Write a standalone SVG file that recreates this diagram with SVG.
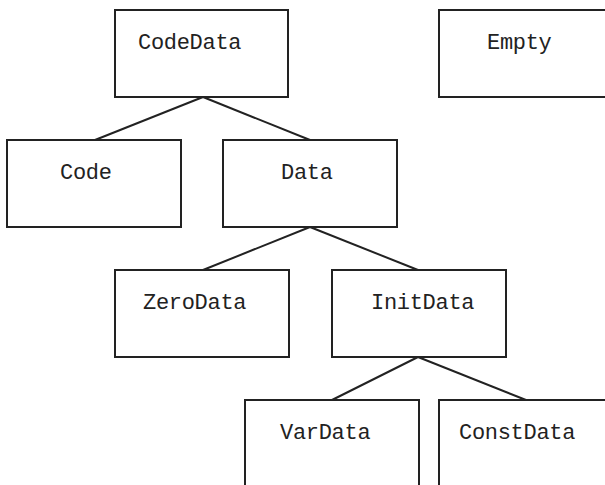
<svg xmlns="http://www.w3.org/2000/svg" width="605" height="485" viewBox="0 0 605 485">
<style>
.box{fill:#fff;stroke:#222;stroke-width:2}
.lbl{font-family:"Liberation Mono","DejaVu Sans Mono",monospace;font-size:22px;letter-spacing:-0.3px;fill:#222}
.con{stroke:#222;stroke-width:2;fill:none}
</style>
<rect width="605" height="485" fill="#fff"/>
<g id="connectors">
<line class="con" x1="203" y1="97" x2="95" y2="140"/>
<line class="con" x1="203" y1="97" x2="310" y2="140"/>
<line class="con" x1="310" y1="227" x2="203" y2="270"/>
<line class="con" x1="310" y1="227" x2="418" y2="270"/>
<line class="con" x1="418" y1="357" x2="332" y2="400"/>
<line class="con" x1="418" y1="357" x2="526" y2="400"/>
</g>
<g id="CodeData"><rect class="box" x="115" y="10" width="173" height="87"/><text class="lbl" x="138" y="49">CodeData</text></g>
<g id="Empty"><rect class="box" x="439" y="10" width="180" height="87"/><text class="lbl" x="487" y="49">Empty</text></g>
<g id="Code"><rect class="box" x="7" y="140" width="174" height="87"/><text class="lbl" x="60" y="179">Code</text></g>
<g id="Data"><rect class="box" x="223" y="140" width="174" height="87"/><text class="lbl" x="281" y="179">Data</text></g>
<g id="ZeroData"><rect class="box" x="115" y="270" width="174" height="87"/><text class="lbl" x="143" y="309">ZeroData</text></g>
<g id="InitData"><rect class="box" x="332" y="270" width="174" height="87"/><text class="lbl" x="371" y="309">InitData</text></g>
<g id="VarData"><rect class="box" x="245" y="400" width="174" height="100"/><text class="lbl" x="280" y="439">VarData</text></g>
<g id="ConstData"><rect class="box" x="439" y="400" width="180" height="100"/><text class="lbl" x="459" y="439">ConstData</text></g>
</svg>
